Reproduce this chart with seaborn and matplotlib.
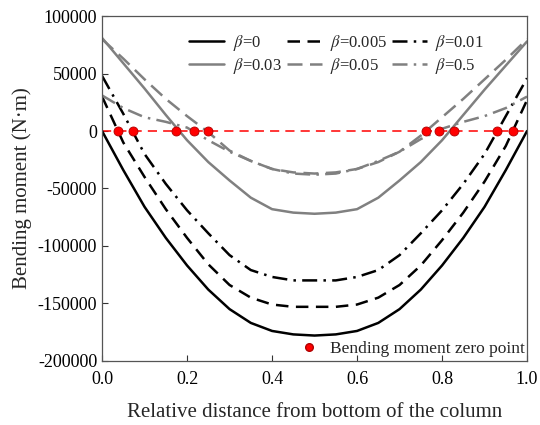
import numpy as np
import pandas as pd
import matplotlib
matplotlib.use("Agg")
import matplotlib.pyplot as plt
import seaborn as sns
from matplotlib.lines import Line2D

sns.set_theme(style="white")
plt.rcParams["font.family"] = ["Liberation Serif", "DejaVu Serif"]
plt.rcParams["mathtext.fontset"] = "stix"

# Relative position along the column
position = [0.00, 0.05, 0.10, 0.15, 0.20, 0.25, 0.30, 0.35, 0.40, 0.45, 0.50,
            0.55, 0.60, 0.65, 0.70, 0.75, 0.80, 0.85, 0.90, 0.95, 1.00]

# Bending moment (N·m) for each restraint ratio beta
m_beta_0 = [0, -34000, -66000, -93000, -117000, -138000, -155000, -167000, -174000, -177000, -178000,
            -177000, -174000, -167000, -155000, -138000, -117000, -93000, -66000, -34000, 0]
m_beta_0005 = [30000, -10000, -40000, -68000, -93000, -116000, -134000, -145000, -151000, -153000, -153000,
               -153000, -151000, -145000, -134000, -117000, -95000, -71000, -44000, -13000, 27000]
m_beta_001 = [48000, 15000, -20000, -46000, -69000, -89000, -108000, -121000, -127000, -130000, -130000,
              -130000, -127000, -121000, -108000, -89000, -69000, -46000, -20000, 13000, 46000]
m_beta_003 = [81000, 59000, 37000, 14000, -8000, -27000, -43000, -58000, -68000, -71000, -72000,
              -71000, -68000, -58000, -43000, -27000, -8000, 14000, 36000, 57000, 78000]
m_beta_005 = [80000, 63000, 45000, 28000, 13000, -1000, -17000, -26000, -33000, -36000, -37000,
              -36000, -33000, -27000, -18000, -4000, 12000, 28000, 45000, 62000, 80000]
m_beta_05 = [31000, 20000, 12000, 8000, 3000, -8000, -18000, -26000, -33000, -37000, -38000,
             -37000, -33000, -26000, -18000, -7000, 2000, 8000, 13000, 20000, 30000]

labels = ["0", "0.005", "0.01", "0.03", "0.05", "0.5"]

# Locations where the bending moment changes sign
zero_points = [0.038, 0.073, 0.174, 0.216, 0.249, 0.762, 0.793, 0.828, 0.929, 0.967]

series = [m_beta_0, m_beta_0005, m_beta_001, m_beta_003, m_beta_005, m_beta_05]
colors = ["black", "black", "black", "#808080", "#808080", "#808080"]
styles = ["-", (0, (5, 3)), (0, (6, 2.5, 1, 2.5)), "-", (0, (6, 3)), (0, (6, 2.5, 1, 2.5))]

fig = plt.figure(figsize=(5.4, 4.25), dpi=100)
ax = fig.add_axes([0.189, 0.151, 0.787, 0.811])

# Zero reference line
ax.axhline(0, color="red", lw=1.1, ls=(0, (6, 4)), zorder=1)

handles = []
for vals, lab, c, ls in zip(series, labels, colors, styles):
    df = pd.DataFrame({"x": position, "M": vals})
    sns.lineplot(data=df, x="x", y="M", ax=ax, color=c, linewidth=1.8,
                 linestyle=ls, zorder=2)
    handles.append(Line2D([], [], color=c, lw=1.8, ls=ls, label=r"$\beta$=" + lab))

sns.scatterplot(x=zero_points, y=[0] * len(zero_points), ax=ax, color="red",
                edgecolor="#b00000", s=42, linewidth=0.6, zorder=4)

ax.set_xlim(0, 1)
ax.set_ylim(-200000, 100000)
ax.set_xticks([0, 0.2, 0.4, 0.6, 0.8, 1.0])
ax.set_xticklabels(["0.0", "0.2", "0.4", "0.6", "0.8", "1.0"])
ax.set_yticks(np.arange(-200000, 100001, 50000))
ax.set_yticklabels([f"{v:d}" for v in range(-200000, 100001, 50000)])
ax.tick_params(axis="both", direction="in", length=4, width=0.8, labelsize=13,
               colors="#333333", labelcolor="black", bottom=True, left=True)
ax.tick_params(axis="x", pad=7)
for sp in ax.spines.values():
    sp.set_color("#555555")
    sp.set_linewidth(0.9)

ax.set_xlabel("Relative distance from bottom of the column", fontsize=15, labelpad=11)
ax.set_ylabel("Bending moment (N·m)", fontsize=15, labelpad=4)

order = [0, 3, 1, 4, 2, 5]
leg1 = ax.legend([handles[i] for i in order], [handles[i].get_label() for i in order],
                 ncol=3, loc="upper left", bbox_to_anchor=(0.17, 0.995), frameon=False,
                 fontsize=12, handlelength=2.1, columnspacing=0.3, handletextpad=0.5,
                 labelspacing=0.2)
ax.add_artist(leg1)
zero_handle = Line2D([], [], marker="o", color="red", markeredgecolor="#b00000",
                     markersize=5.5, lw=0)
ax.legend([zero_handle], ["Bending moment zero point"], loc="lower right",
          bbox_to_anchor=(1.02, -0.02), frameon=False, fontsize=12.5,
          handletextpad=0.2, borderaxespad=0.2)

fig.savefig("out.png", dpi=100)
